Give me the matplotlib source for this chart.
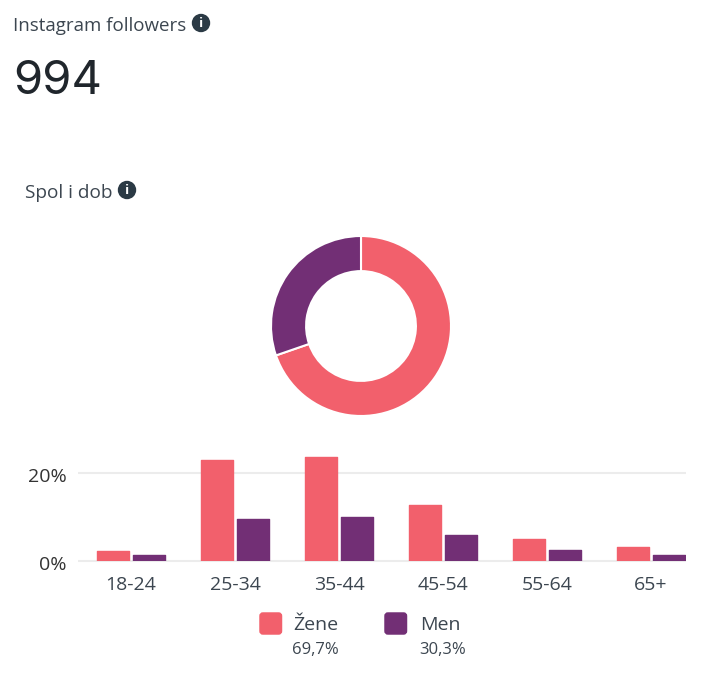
import matplotlib
matplotlib.use("Agg")
import matplotlib.pyplot as plt
import numpy as np
from matplotlib.patches import Circle, FancyBboxPatch
from matplotlib.transforms import ScaledTranslation

W, H = 723, 675

age_groups = ["18-24", "25-34", "35-44", "45-54", "55-64", "65+"]
women_pct = [2.3, 23.0, 23.6, 12.7, 5.0, 3.1]
men_pct = [1.3, 9.5, 10.1, 5.8, 2.6, 1.3]
share_values = [69.7, 30.3]
share_labels = ["Žene", "Men"]
share_texts = ["69,7%", "30,3%"]
y_ticks = [0, 20]
y_tick_labels = ["0%", "20%"]

PINK = "#F2606C"
PURPLE = "#722F75"
TEXT = "#3C4650"
FONT = "Open Sans"

plt.rcParams["font.family"] = [FONT, "DejaVu Sans"]


def px_axes(fig, left, top, right, bottom):
    # axes box given in image pixels, origin top left
    return fig.add_axes([left / W, 1 - bottom / H, (right - left) / W, (bottom - top) / H])


fig = plt.figure(figsize=(W / 100, H / 100), dpi=100)

# overlay in pixel coordinates for the headings and legend
page = fig.add_axes([0, 0, 1, 1])
page.set_xlim(0, W)
page.set_ylim(H, 0)
page.axis("off")


def info_icon(x, y):
    page.add_patch(Circle((x, y), 8.5, color="#2B3A45"))
    page.text(x, y + 0.5, "i", color="white", fontsize=9.5, fontweight="bold",
              ha="center", va="center")


page.text(13, 26, "Instagram followers", fontsize=13.5, color=TEXT, va="center")
info_icon(201, 23)
page.text(13, 82, "994", fontsize=34, color="#20262C", va="center", family="Inter")
page.text(25, 193, "Spol i dob", fontsize=13.7, color=TEXT, va="center")
info_icon(127, 190)

# donut
ax_pie = px_axes(fig, 271, 236, 451, 416)
ax_pie.pie(share_values, colors=[PINK, PURPLE], startangle=90, counterclock=False,
           radius=1.0, wedgeprops={"width": 0.39, "edgecolor": "white", "linewidth": 1.5})
ax_pie.set_xlim(-1, 1)
ax_pie.set_ylim(-1, 1)

# bars, 104 px per group
ax = px_axes(fig, 78, 451, 686, 561)
x = np.arange(len(age_groups))
bar_w = 0.312
offset = 0.175
common = {"width": bar_w, "linewidth": 1, "joinstyle": "round", "zorder": 3}
ax.bar(x - offset, women_pct, color=PINK, edgecolor=PINK, **common)
ax.bar(x + offset, men_pct, color=PURPLE, edgecolor=PURPLE, **common)
ax.set_xlim((78 - 131) / 104, (686 - 131) / 104)
ax.set_ylim(0, 110 / 4.4)
ax.set_xticks(x, age_groups)
ax.set_yticks(y_ticks, y_tick_labels)
ax.grid(axis="y", color="#ECECEC", linewidth=1.5, zorder=0, solid_capstyle="butt")
ax.set_axisbelow(True)
for s in ax.spines.values():
    s.set_visible(False)
ax.tick_params(axis="both", length=0)
ax.tick_params(axis="x", labelsize=14, labelcolor=TEXT, pad=11)
ax.tick_params(axis="y", labelsize=14, labelcolor="#333333", pad=8)
shift = ScaledTranslation(0, -2 / 100, fig.dpi_scale_trans)
for lbl in ax.get_yticklabels():
    lbl.set_transform(lbl.get_transform() + shift)
for line in ax.get_ygridlines():
    line.set_clip_on(False)

# legend
swatch_x = [259, 384]
label_x = [293, 420]
for i, name in enumerate(share_labels):
    colour = [PINK, PURPLE][i]
    page.add_patch(FancyBboxPatch((swatch_x[i] + 2, 614), 19.5, 19,
                                  boxstyle="round,pad=0,rounding_size=2",
                                  facecolor=colour, edgecolor=colour, linewidth=2.5))
    page.text(label_x[i], 625, name, fontsize=14, color=TEXT, va="center")
    page.text(label_x[i] - 1, 650, share_texts[i], fontsize=12, color=TEXT, va="center")

fig.savefig("out.png", dpi=100)
